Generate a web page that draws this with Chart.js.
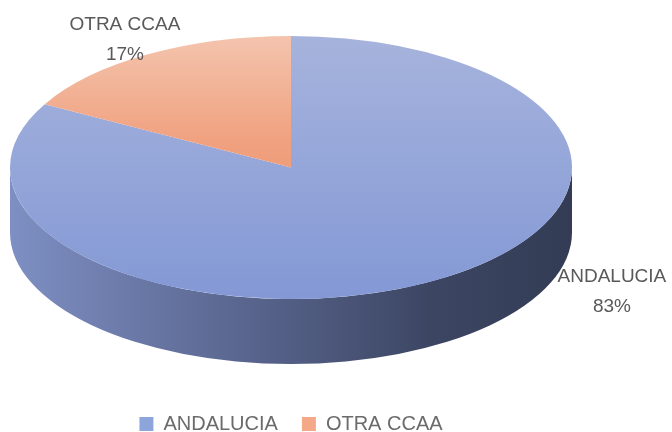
<!DOCTYPE html>
<html>
<head>
<meta charset="utf-8">
<script src="https://cdn.jsdelivr.net/npm/chart.js@4"></script>
<style>
  html, body { margin: 0; padding: 0; background: #fff; }
  #wrap { width: 672px; height: 432px; }
</style>
</head>
<body>
<div id="wrap"><canvas id="pie3d"></canvas></div>
<script>
// chart values
const categories = ["ANDALUCIA", "OTRA CCAA"];
const values = [83, 17];

// styling
const legendColors = ["#8ea5db", "#f4a887"];
const topStops = [
    [[0, "#a6b3dc"], [1, "#8398d5"]],
    [[0, "#f4c4ae"], [0.4, "#f0a17f"], [1, "#ec8c62"]],
];
const sideStops = [
    [[0, "#7e8fc3"], [0.45, "#56628a"], [0.75, "#3c4663"], [1, "#333c54"]],
    [[0, "#c9855f"], [1, "#7a4a33"]],
];
const depth = 65; // height of the pie's side wall
const ry = 131.5; // vertical radius of the top face
// label centres relative to the ellipse (in radii units)
const labelSpots = [[1.142, 0.945], [-0.591, -0.975]];

function topFill(context) {
    const chart = context.chart;
    const a = chart.chartArea;
    if (!a) return legendColors[context.dataIndex];
    const r = Math.min(a.right - a.left, a.bottom - a.top) / 2;
    const cy = (a.top + a.bottom) / 2;
    const g = chart.ctx.createLinearGradient(0, cy - r, 0, cy + r);
    topStops[context.dataIndex].forEach(s => g.addColorStop(s[0], s[1]));
    return g;
}

function ellipseOf(chart) {
    const a = chart.chartArea;
    const rx = (a.right - a.left) / 2;
    return { cx: a.left + rx, cy: a.top + ry, rx: rx, ry: ry };
}

// squash the pie into an ellipse and add the side wall
const pie3d = {
    id: "pie3d",
    beforeDatasetsDraw(chart) {
        const ctx = chart.ctx;
        const e = ellipseOf(chart);
        const meta = chart.getDatasetMeta(0);
        ctx.save();
        meta.data.forEach((arc, i) => {
            // only the front half (0..PI) of the wall is visible
            const a0 = Math.max(arc.startAngle, 0);
            const a1 = Math.min(arc.endAngle, Math.PI);
            if (a1 <= a0) return;
            const g = ctx.createLinearGradient(e.cx - e.rx, 0, e.cx + e.rx, 0);
            sideStops[i].forEach(s => g.addColorStop(s[0], s[1]));
            ctx.beginPath();
            ctx.ellipse(e.cx, e.cy, e.rx, e.ry, 0, a0, a1);
            ctx.lineTo(e.cx + e.rx * Math.cos(a1), e.cy + depth + e.ry * Math.sin(a1));
            ctx.ellipse(e.cx, e.cy + depth, e.rx, e.ry, 0, a1, a0, true);
            ctx.closePath();
            ctx.fillStyle = g;
            ctx.fill();
        });
        const arc = meta.data[0];
        const R = arc.outerRadius;
        ctx.translate(e.cx, e.cy);
        ctx.scale(e.rx / R, e.ry / R);
        ctx.translate(-arc.x, -arc.y);
    },
    afterDatasetsDraw(chart) {
        const ctx = chart.ctx;
        ctx.restore();
        // data labels
        const e = ellipseOf(chart);
        const total = values.reduce((s, v) => s + v, 0);
        ctx.save();
        ctx.font = "19px 'Liberation Sans'";
        ctx.fillStyle = "#595959";
        ctx.textAlign = "center";
        ctx.textBaseline = "middle";
        categories.forEach((name, i) => {
            const x = e.cx + labelSpots[i][0] * e.rx;
            const y = e.cy + labelSpots[i][1] * e.ry;
            ctx.fillText(name, x, y - 15);
            ctx.fillText(Math.round(values[i] / total * 100) + "%", x, y + 15);
        });
        ctx.restore();
    },
};

new Chart(document.getElementById("pie3d"), {
    type: "pie",
    data: {
        labels: categories,
        datasets: [{
            data: values,
            backgroundColor: topFill,
            borderWidth: 0,
        }],
    },
    options: {
        responsive: true,
        maintainAspectRatio: false,
        animation: false,
        layout: { padding: { top: 36, left: 10, right: 100, bottom: -12 } },
        plugins: {
            tooltip: { enabled: false },
            legend: {
                position: "bottom",
                labels: {
                    font: { family: "'Liberation Sans'", size: 20 },
                    color: "#6b6b6b",
                    boxWidth: 14,
                    boxHeight: 14,
                    padding: 24,
                    generateLabels(chart) {
                        const items = Chart.overrides.pie.plugins.legend.labels.generateLabels(chart);
                        items.forEach((it, i) => {
                            it.fillStyle = legendColors[i];
                            it.strokeStyle = legendColors[i];
                            it.lineWidth = 0;
                        });
                        return items;
                    },
                },
            },
        },
    },
    plugins: [pie3d],
});
</script>
</body>
</html>
